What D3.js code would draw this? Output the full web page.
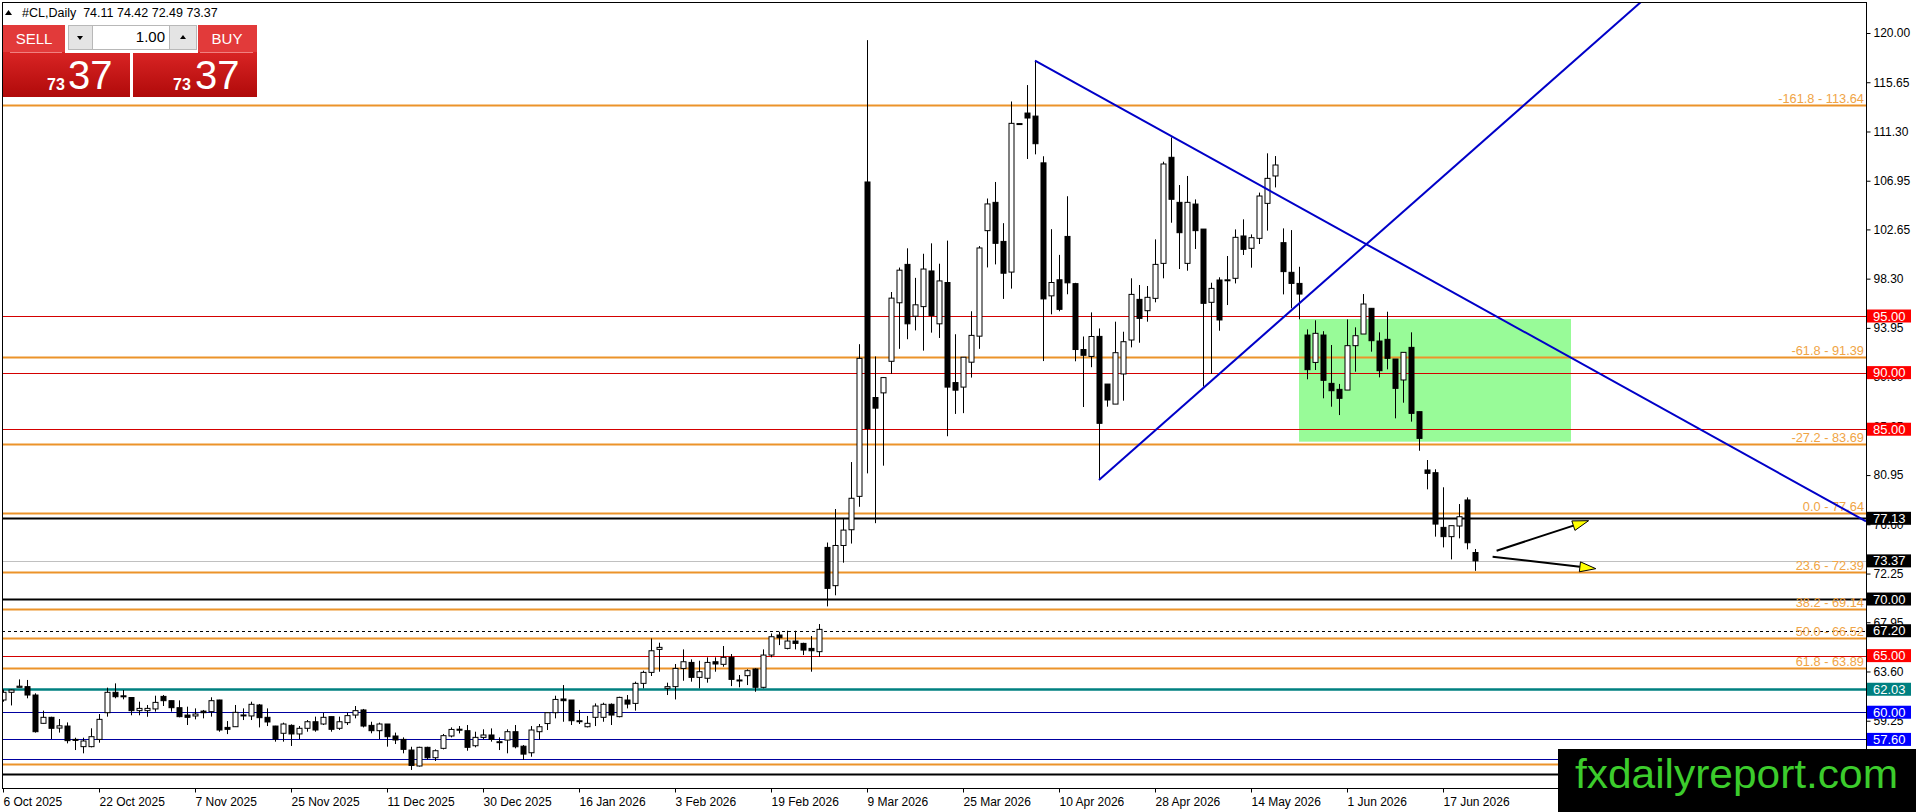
<!DOCTYPE html>
<html>
<head>
<meta charset="utf-8">
<script src="https://cdn.jsdelivr.net/npm/d3@7"></script>
<style>
  body { margin: 0; background: #fff; overflow: hidden; }
  svg { display: block; font-family: "Liberation Sans", Arial, sans-serif; }
</style>
</head>
<body>
<svg id="chart" width="1916" height="812"></svg>
<script>

// ---- data (daily bars, #CL) ----
const openP = [61.08,61.76,62.2,62.26,61.52,59.02,59.55,58.6,58.78,57.6,56.96,56.96,57.6,59.96,61.76,61.45,61.3,60.14,60.14,60.29,
  61.4,61.02,60.4,59.75,59.67,60.1,60.05,61.08,58.66,58.72,59.75,59.67,60.64,59.55,58.78,58.14,58.84,58.08,58.58,59.16,
  58.96,59.61,58.58,59.08,59.75,60.2,58.84,58.37,58.96,57.9,57.6,56.66,55.25,56.9,55.98,56.81,57.9,58.5,58.37,57.04,
  57.78,57.99,57.4,57.54,58.28,57.0,56.42,58.28,59.0,59.96,61.17,61.08,59.25,58.72,59.55,59.55,60.7,59.61,61.08,60.78,
  62.55,63.52,65.55,62.11,62.26,63.87,64.4,63.08,63.0,64.46,64.23,64.85,62.85,63.23,63.82,62.2,65.05,66.82,65.64,66.29,
  66.08,65.64,65.35,74.56,71.18,74.73,76.12,79.07,106.84,87.8,88.21,91.0,96.17,99.56,94.98,95.83,98.98,94.31,97.96,89.12,
  88.72,90.92,93.22,102.54,105.04,101.59,98.88,112.0,112.93,112.66,108.53,96.78,98.2,102.03,97.86,92.04,91.43,93.2,88.99,87.22,
  89.88,92.88,96.47,95.47,96.56,99.65,109.02,105.04,99.65,104.89,102.68,96.21,98.18,98.18,98.33,102.07,100.98,101.86,104.95,107.37,
  101.48,98.86,97.88,93.32,90.9,93.32,89.05,88.52,88.46,92.38,93.41,95.68,92.79,92.94,91.2,89.35,92.23,86.55,81.4,81.16,
  76.33,75.51,76.45,78.75,74.11];
const highP = [62.0,62.0,62.9,62.85,61.67,60.14,59.6,59.4,59.1,57.75,57.75,58.58,59.84,62.17,62.55,61.96,61.3,60.93,60.64,61.46,
  61.52,61.02,61.05,60.49,60.34,60.2,61.32,61.1,59.22,60.64,60.34,60.93,60.73,60.34,58.8,59.08,58.93,58.78,59.31,59.61,
  59.96,59.61,59.61,59.96,60.55,60.29,59.16,59.08,58.96,58.2,57.78,56.95,56.95,56.95,56.72,58.08,58.66,58.78,58.87,58.28,
  58.49,58.57,57.78,58.49,58.87,57.1,58.78,58.96,59.99,61.46,62.4,61.08,60.2,59.67,60.78,60.84,60.78,61.37,61.52,62.7,
  63.67,66.52,66.14,62.61,64.26,65.55,64.67,64.55,64.85,64.85,65.85,65.14,63.29,63.79,63.88,65.55,66.96,67.11,67.2,67.2,
  66.14,66.73,67.79,74.99,77.95,77.14,82.1,92.51,119.37,91.43,89.6,97.12,99.28,100.98,98.37,100.5,101.42,99.62,101.66,93.39,
  91.36,95.42,101.18,105.38,106.84,103.2,113.95,112.02,115.4,117.57,109.11,102.67,100.4,105.58,97.93,93.19,95.32,93.9,88.99,94.5,
  93.61,98.33,97.74,97.65,101.77,108.63,110.78,106.57,107.37,105.3,102.68,97.94,98.42,100.3,102.65,103.54,102.21,105.9,109.37,109.13,
  102.74,102.59,99.35,93.82,94.62,93.66,92.44,89.0,94.7,94.0,96.94,95.68,93.56,95.38,91.2,91.79,93.56,86.55,82.28,81.46,
  79.87,76.48,78.39,78.98,74.42];
const lowP = [60.93,60.6,62.2,61.23,58.2,59.0,57.63,58.2,57.25,56.66,56.37,56.9,57.31,59.61,61.23,61.14,59.73,59.73,59.6,60.05,
  60.55,60.05,59.55,58.87,59.37,59.46,59.61,58.28,58.07,58.7,59.31,59.31,58.66,58.78,57.4,57.4,57.02,57.63,58.28,58.28,
  58.87,58.28,58.43,58.87,59.46,58.66,58.14,57.63,56.96,57.19,56.37,54.9,55.2,55.83,55.69,56.72,57.78,58.13,56.6,56.9,
  57.6,57.4,56.66,56.37,56.81,55.78,56.07,57.6,58.43,59.46,59.16,58.87,58.96,58.66,58.78,59.16,58.87,59.55,60.34,60.14,
  62.11,63.2,63.58,61.52,61.13,62.78,62.7,62.11,62.61,63.58,64.02,62.31,62.2,62.4,61.81,62.11,64.85,65.93,65.55,65.55,
  65.05,63.58,64.9,69.35,70.33,73.21,74.9,78.15,81.1,76.7,81.78,89.9,92.1,92.95,93.73,91.94,93.53,93.06,84.38,86.35,
  86.42,89.56,92.1,99.29,99.56,96.51,97.42,111.98,108.87,109.28,91.02,95.15,95.42,96.92,91.0,86.96,90.48,80.51,86.99,87.22,
  87.52,92.23,92.64,94.5,96.21,98.33,103.24,99.15,99.0,100.92,88.76,89.88,93.7,95.97,97.88,100.39,99.27,101.36,102.54,106.36,
  96.91,95.68,94.71,89.41,90.23,87.73,86.99,86.25,88.46,90.08,93.41,91.85,89.58,90.29,85.96,87.34,85.67,83.1,79.69,75.51,
  74.56,73.5,75.36,74.39,72.49];
const closeP = [61.76,61.96,62.3,61.52,58.28,59.55,58.58,58.8,57.49,57.55,57.46,57.84,59.37,61.76,61.37,61.4,60.14,60.34,60.34,60.87,
  61.02,60.4,59.61,59.55,59.84,59.96,61.02,58.43,58.49,59.99,59.76,60.7,59.52,59.14,57.63,58.96,58.08,58.58,59.16,58.43,
  59.55,58.49,59.16,59.7,60.14,58.78,58.37,58.96,57.84,57.55,56.72,55.3,56.9,55.98,56.6,57.93,58.48,58.48,56.9,57.78,
  57.99,57.6,57.4,58.28,56.95,56.3,58.43,58.72,59.96,61.13,61.02,59.25,59.25,59.02,60.55,60.7,59.75,61.31,60.72,62.55,
  63.52,65.43,65.73,62.26,63.87,64.46,63.08,63.58,64.4,64.26,64.85,62.9,62.85,63.67,62.2,65.05,66.67,66.58,66.29,66.08,
  65.49,65.43,67.32,70.94,74.73,76.09,78.9,91.26,85.06,86.86,89.56,96.58,99.05,94.31,95.99,99.15,95.05,98.1,88.72,88.45,
  91.36,93.29,101.01,104.9,101.42,98.78,112.02,112.0,112.49,110.22,96.51,97.96,95.59,97.93,92.04,91.53,93.19,85.52,87.58,91.76,
  92.73,96.91,94.79,96.65,99.56,108.43,105.31,102.36,105.04,102.54,96.12,97.44,94.65,98.2,101.95,100.89,101.92,105.6,107.16,108.34,
  98.92,97.88,96.94,90.26,93.47,89.32,88.4,87.73,92.38,93.26,96.06,92.82,90.17,91.26,88.61,91.79,86.4,84.19,81.1,76.62,
  75.51,76.48,77.27,74.97,73.37];

const dateTickBars = [0,12,24,36,48,60,72,84,96,108,120,132,144,156,168,180];
const dateLabels = ["6 Oct 2025","22 Oct 2025","7 Nov 2025","25 Nov 2025","11 Dec 2025","30 Dec 2025",
  "16 Jan 2026","3 Feb 2026","19 Feb 2026","9 Mar 2026","25 Mar 2026","10 Apr 2026","28 Apr 2026",
  "14 May 2026","1 Jun 2026","17 Jun 2026"];
const priceTicks = [120.00,115.65,111.30,106.95,102.65,98.30,93.95,89.60,85.25,80.95,76.60,72.25,67.95,63.60,59.25];

// fibonacci levels
const fibRatios = ["-161.8","-61.8","-27.2","0.0","23.6","38.2","50.0","61.8","100.0"];
const fibPrices = [113.64,91.39,83.69,77.64,72.39,69.14,66.52,63.89,55.39];

// horizontal levels
const redLevels = [95.00,90.00,85.00,65.00];
const blackLevels = [77.13,70.00,54.55];
const dashedLevels = [67.20];
const tealLevels = [62.03];
const blueLevels = [60.00,57.60,55.85];
const lastPrice = 73.37;

// trend lines as [bar, price] pairs, drawn as rays to the right
const trendDown = [[129,117.57],[187.1,94.80]];
const trendUp = [[137,80.51],[204.6,122.65]];

// supply zone
const zoneBars = [162,196];
const zonePrices = [94.74,83.90];

// arrows [bar, price] -> [bar, price]
const arrowUp = [[186.7,74.27],[198.2,76.92]];
const arrowDown = [[186.2,73.74],[199.1,72.68]];

const header = "#CL,Daily  74.11 74.42 72.49 73.37";

// ---- drawing ----
const svg = d3.select('#chart');
const W = 1916, H = 812;
const plotL = 2, plotT = 2, plotR = 1866, plotB = 788;

const x = d3.scaleLinear().domain([0, (plotR - 3) / 8]).range([3, plotR]);
const y = d3.scaleLinear().domain([120, 57.6]).range([33, 739.4]);

svg.append('rect').attr('width', W).attr('height', H).attr('fill', '#fff');

svg.append('clipPath').attr('id', 'plotclip')
  .append('rect').attr('x', plotL).attr('y', plotT)
  .attr('width', plotR - plotL).attr('height', plotB - plotT);

const plot = svg.append('g').attr('clip-path', 'url(#plotclip)');

// green zone (background object)
plot.append('rect')
  .attr('x', x(zoneBars[0])).attr('y', y(zonePrices[0]))
  .attr('width', x(zoneBars[1]) - x(zoneBars[0]))
  .attr('height', y(zonePrices[1]) - y(zonePrices[0]))
  .attr('fill', '#98fb98');

function hline(p, color, w, dash) {
  const l = plot.append('line')
    .attr('x1', plotL).attr('x2', plotR)
    .attr('y1', Math.round(y(p)) + 0.5).attr('y2', Math.round(y(p)) + 0.5)
    .attr('stroke', color).attr('stroke-width', w);
  if (dash) l.attr('stroke-dasharray', dash);
}

hline(lastPrice, '#c0c0c0', 1);
fibPrices.forEach(p => hline(p, '#ec932a', 2));
redLevels.forEach(p => hline(p, '#d40000', 1));
blackLevels.forEach(p => hline(p, '#000', 2));
dashedLevels.forEach(p => hline(p, '#000', 1, '3,3'));
tealLevels.forEach(p => hline(p, '#008080', 2.5));
blueLevels.forEach(p => hline(p, '#0000a0', 1));

// fib labels
plot.selectAll('text.fib')
  .data(fibPrices)
  .enter().append('text')
  .attr('class', 'fib')
  .attr('x', plotR - 2)
  .attr('y', d => y(d) - 2)
  .attr('text-anchor', 'end')
  .attr('font-size', 12.8)
  .attr('fill', '#f0a445')
  .text((d, i) => fibRatios[i] + ' - ' + d.toFixed(2));

// candles
const idx = d3.range(openP.length);
const candles = plot.append('g');
candles.selectAll('line.wick')
  .data(idx)
  .enter().append('line')
  .attr('class', 'wick')
  .attr('x1', i => Math.round(x(i)) + 0.5).attr('x2', i => Math.round(x(i)) + 0.5)
  .attr('y1', i => y(highP[i])).attr('y2', i => y(lowP[i]))
  .attr('stroke', '#000').attr('stroke-width', 1);

candles.selectAll('rect.body')
  .data(idx)
  .enter().append('rect')
  .attr('class', 'body')
  .attr('x', i => Math.round(x(i)) - 2)
  .attr('y', i => y(Math.max(openP[i], closeP[i])))
  .attr('width', 5)
  .attr('height', i => Math.max(1, Math.abs(y(openP[i]) - y(closeP[i]))))
  .attr('fill', i => closeP[i] >= openP[i] ? '#fff' : '#000')
  .attr('stroke', '#000').attr('stroke-width', 1);

// trend rays
function ray(pts) {
  const x1 = x(pts[0][0]), y1 = y(pts[0][1]);
  const x2 = x(pts[1][0]), y2 = y(pts[1][1]);
  const k = (y2 - y1) / (x2 - x1);
  plot.append('line')
    .attr('x1', x1).attr('y1', y1)
    .attr('x2', plotR).attr('y2', y1 + k * (plotR - x1))
    .attr('stroke', '#0000c8').attr('stroke-width', 2);
}
ray(trendDown);
ray(trendUp);

// arrows
function arrow(pts) {
  const x1 = x(pts[0][0]), y1 = y(pts[0][1]);
  const x2 = x(pts[1][0]), y2 = y(pts[1][1]);
  const a = Math.atan2(y2 - y1, x2 - x1);
  const len = 16, hw = 5;
  const bx = x2 - len * Math.cos(a), by = y2 - len * Math.sin(a);
  plot.append('line')
    .attr('x1', x1).attr('y1', y1).attr('x2', bx).attr('y2', by)
    .attr('stroke', '#000').attr('stroke-width', 2);
  const pts2 = [
    [x2, y2],
    [bx + hw * Math.sin(a), by - hw * Math.cos(a)],
    [bx - hw * Math.sin(a), by + hw * Math.cos(a)]
  ];
  plot.append('polygon')
    .attr('points', pts2.map(p => p.join(',')).join(' '))
    .attr('fill', '#ffff00').attr('stroke', '#000').attr('stroke-width', 1);
}
arrow(arrowUp);
arrow(arrowDown);

// frame
svg.append('rect')
  .attr('x', plotL + 0.5).attr('y', plotT + 0.5)
  .attr('width', plotR - plotL).attr('height', plotB - plotT)
  .attr('fill', 'none').attr('stroke', '#000').attr('stroke-width', 1);

// price axis
const yAxis = d3.axisRight(y)
  .tickValues(priceTicks)
  .tickFormat(d3.format('.2f'))
  .tickSize(4).tickPadding(3);
const yg = svg.append('g')
  .attr('transform', `translate(${plotR + 0.5},0)`)
  .call(yAxis);
yg.select('.domain').remove();
yg.selectAll('text').attr('font-size', 12).attr('font-family', '"Liberation Sans", Arial, sans-serif').attr('fill', '#000');
yg.selectAll('line').attr('stroke', '#000');

// date axis
const xAxis = d3.axisBottom(x)
  .tickValues(dateTickBars)
  .tickFormat((d, i) => dateLabels[i])
  .tickSize(4).tickPadding(5);
const xg = svg.append('g')
  .attr('transform', `translate(0,${plotB + 0.5})`)
  .call(xAxis);
xg.select('.domain').remove();
xg.selectAll('text')
  .attr('text-anchor', 'start')
  .attr('font-size', 12).attr('font-family', '"Liberation Sans", Arial, sans-serif').attr('fill', '#000');
xg.selectAll('line').attr('stroke', '#000');

// price labels on axis
function axisLabel(p, bg) {
  const yy = y(p);
  svg.append('rect')
    .attr('x', plotR + 1).attr('y', yy - 6.5)
    .attr('width', 44).attr('height', 13)
    .attr('fill', bg);
  svg.append('text')
    .attr('x', plotR + 7).attr('y', yy + 4.5)
    .attr('font-size', 13).attr('fill', '#fff')
    .text(p.toFixed(2));
}
redLevels.forEach(p => axisLabel(p, '#ff0000'));
blackLevels.forEach(p => axisLabel(p, '#000'));
dashedLevels.forEach(p => axisLabel(p, '#000'));
tealLevels.forEach(p => axisLabel(p, '#008080'));
blueLevels.forEach(p => axisLabel(p, '#0000ff'));
axisLabel(lastPrice, '#000');

// header
svg.append('path').attr('d', 'M5,15 L8.5,10 L12,15 Z').attr('fill', '#000');
svg.append('text').attr('x', 22).attr('y', 17)
  .attr('font-size', 12.5).attr('fill', '#000')
  .attr('xml:space', 'preserve').style('white-space', 'pre')
  .text(header);

// one-click trading panel
const grad = svg.append('defs').append('linearGradient')
  .attr('id', 'btn').attr('x1', 0).attr('x2', 0).attr('y1', 0).attr('y2', 1);
grad.append('stop').attr('offset', '0%').attr('stop-color', '#d92424');
grad.append('stop').attr('offset', '100%').attr('stop-color', '#b00a0a');

const panel = svg.append('g');
[[3, 127], [133, 124]].forEach(([bx, bw]) => {
  panel.append('rect').attr('x', bx).attr('y', 25).attr('width', bw).attr('height', 27).attr('fill', '#e23a3a');
  panel.append('rect').attr('x', bx).attr('y', 52).attr('width', bw).attr('height', 45).attr('fill', 'url(#btn)');
});
panel.append('line').attr('x1', 10).attr('x2', 62).attr('y1', 52.5).attr('y2', 52.5).attr('stroke', '#f08080');
panel.append('line').attr('x1', 200).attr('x2', 253).attr('y1', 52.5).attr('y2', 52.5).attr('stroke', '#f08080');
panel.append('rect').attr('x', 65).attr('y', 23).attr('width', 133).attr('height', 30).attr('fill', '#fff');
panel.append('rect').attr('x', 68.5).attr('y', 25.5).attr('width', 24).attr('height', 24).attr('fill', '#e4e4e4').attr('stroke', '#b8b8b8');
panel.append('rect').attr('x', 92.5).attr('y', 25.5).attr('width', 77).attr('height', 24).attr('fill', '#fff').attr('stroke', '#b8b8b8');
panel.append('rect').attr('x', 169.5).attr('y', 25.5).attr('width', 27).attr('height', 24).attr('fill', '#e4e4e4').attr('stroke', '#b8b8b8');
panel.append('path').attr('d', 'M77,36 L83,36 L80,40 Z').attr('fill', '#000');
panel.append('path').attr('d', 'M180,39 L186,39 L183,35 Z').attr('fill', '#000');
panel.append('text').attr('x', 165).attr('y', 42).attr('text-anchor', 'end')
  .attr('font-size', 15).attr('fill', '#000').text('1.00');
panel.append('text').attr('x', 34).attr('y', 44).attr('text-anchor', 'middle')
  .attr('font-size', 15).attr('fill', '#fff').text('SELL');
panel.append('text').attr('x', 227).attr('y', 44).attr('text-anchor', 'middle')
  .attr('font-size', 15).attr('fill', '#fff').text('BUY');
[[47, 68], [173, 195]].forEach(([sx, bx]) => {
  panel.append('text').attr('x', sx).attr('y', 90)
    .attr('font-size', 16).attr('font-weight', 'bold').attr('fill', '#fff').text('73');
  panel.append('text').attr('x', bx).attr('y', 89)
    .attr('font-size', 40).attr('fill', '#fff').text('37');
});

// watermark
svg.append('rect').attr('x', 1558).attr('y', 749).attr('width', W - 1558).attr('height', H - 749).attr('fill', '#000');
svg.append('text').attr('x', 1575).attr('y', 788)
  .attr('font-size', 41).attr('fill', '#3ccc2c')
  .attr('textLength', 323).attr('lengthAdjust', 'spacingAndGlyphs')
  .text('fxdailyreport.com');

</script>
</body>
</html>
